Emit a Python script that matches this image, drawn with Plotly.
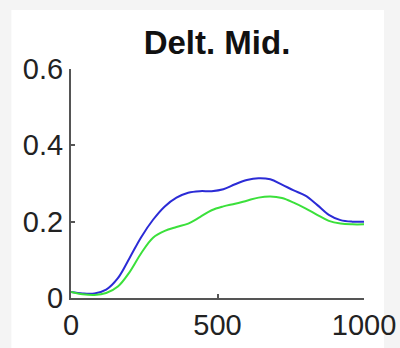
import plotly.graph_objects as go

# Time axis (ms) and mean activation traces
time_ms = [0, 40, 80, 120, 160, 200, 240, 280, 320, 360, 400, 440, 480, 520,
           560, 600, 640, 680, 720, 760, 800, 840, 880, 920, 960, 1000]
blue_vals = [0.016, 0.012, 0.012, 0.022, 0.052, 0.105, 0.160, 0.205, 0.240,
             0.263, 0.276, 0.280, 0.280, 0.285, 0.298, 0.309, 0.314, 0.311,
             0.297, 0.282, 0.268, 0.244, 0.218, 0.204, 0.200, 0.200]
green_vals = [0.016, 0.010, 0.008, 0.013, 0.030, 0.068, 0.118, 0.158, 0.176,
              0.186, 0.195, 0.212, 0.230, 0.240, 0.247, 0.255, 0.263, 0.266,
              0.262, 0.250, 0.235, 0.218, 0.202, 0.195, 0.193, 0.193]

x_ticks = [0, 500, 1000]
y_ticks = [0, 0.2, 0.4, 0.6]
title_text = "Delt. Mid."

fig = go.Figure()
fig.add_trace(go.Scatter(x=time_ms, y=blue_vals, mode="lines",
                         line=dict(color="#2b2bd6", width=2, shape="spline")))
fig.add_trace(go.Scatter(x=time_ms, y=green_vals, mode="lines",
                         line=dict(color="#3be03b", width=2, shape="spline")))

L, R, T, B = 70.7, 36, 69, 49.7
W, H = 400, 348
pw, ph = W - L - R, H - T - B

# white figure panel over the light grey page
fig.add_shape(type="rect", xref="paper", yref="paper", layer="below",
              x0=(11 - L) / pw, x1=(384 - L) / pw,
              y0=-(B + 5) / ph, y1=(H - B - 10) / ph,
              fillcolor="white", line=dict(width=0))

axis_common = dict(showline=True, linecolor="#555555", linewidth=2,
                   ticks="inside", ticklen=4, tickwidth=1.5, tickcolor="#555555",
                   showgrid=False, zeroline=False, automargin=False,
                   tickfont=dict(family="Liberation Sans", size=29, color="#222222"))

fig.update_layout(
    width=W, height=H,
    margin=dict(l=L, r=R, t=T, b=B, pad=0, autoexpand=False),
    paper_bgcolor="#f4f4f4", plot_bgcolor="white",
    showlegend=False,
    title=dict(text="<b>" + title_text + "</b>", x=217 / W, xanchor="center",
               y=1 - 42 / H, yanchor="middle",
               font=dict(family="Liberation Sans", size=33, color="#111111")),
    xaxis=dict(range=[0, 1000], tickvals=x_ticks, ticktext=[str(v) for v in x_ticks],
               **axis_common),
    yaxis=dict(range=[0, 0.6], tickvals=y_ticks, ticktext=["0", "0.2", "0.4", "0.6"],
               **axis_common),
)

fig.write_html("out.html")
